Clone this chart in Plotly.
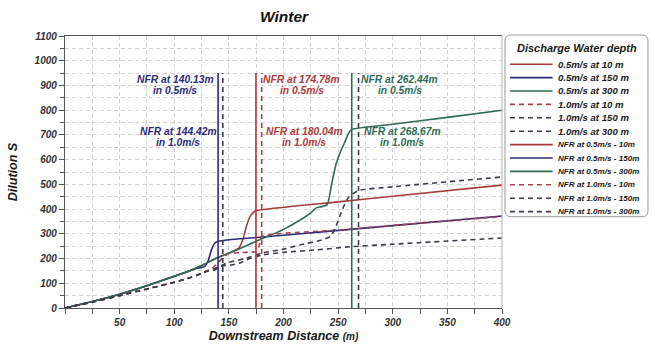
import plotly.graph_objects as go

# ---- Dilution along the plume, discharge speed 0.5 m/s ----
x_05_10 = [0, 25, 50, 75, 100, 115, 125, 140, 150, 159, 163, 166, 169, 172, 174.78, 250, 300, 400]
s_05_10 = [0, 26, 56, 90, 128, 152, 172, 204, 222, 242, 280, 330, 366, 385, 393, 429, 452, 497]

x_05_150 = [0, 25, 50, 75, 100, 115, 120, 125, 128, 131, 134, 137, 140.13, 200, 300, 400]
s_05_150 = [0, 26, 56, 90, 128, 152, 160, 164, 168, 190, 235, 262, 270, 294, 333, 372]

x_05_300 = [0, 25, 50, 75, 100, 115, 125, 140, 150, 160, 175, 200, 216, 225, 230, 235, 240,
            244, 248, 252, 256, 260, 262.44, 300, 350, 400]
s_05_300 = [0, 26, 56, 90, 128, 152, 172, 204, 222, 240, 270, 318, 358, 385, 405, 410, 418,
            500, 580, 630, 670, 710, 722, 743, 771, 800]

# ---- Dilution along the plume, discharge speed 1.0 m/s ----
x_10_10 = [0, 25, 50, 75, 100, 115, 125, 135, 145, 150, 160, 170, 175, 178, 180.04, 250, 300, 400]
s_10_10 = [0, 24, 50, 77, 104, 123, 140, 162, 205, 220, 224, 226, 228, 255, 288, 315, 334, 370]

x_10_150 = [0, 25, 50, 75, 100, 115, 125, 130, 136, 144.42, 152, 160, 168, 180, 200, 230, 262, 300, 400]
s_10_150 = [0, 24, 50, 77, 104, 123, 140, 150, 152, 170, 174, 182, 198, 214, 225, 235, 248, 258, 283]

x_10_300 = [0, 25, 50, 75, 100, 115, 125, 140, 150, 165, 180, 200, 215, 235, 243, 248, 254, 260,
            268.67, 300, 400]
s_10_300 = [0, 24, 50, 77, 104, 123, 140, 165, 185, 200, 222, 238, 255, 275, 290, 330, 400, 450,
            475, 490, 530]

# Near-field region boundaries (m), ordered by water depth 10 / 150 / 300 m
depths = ["10", "150", "300"]
nfr_05 = [174.78, 140.13, 262.44]
nfr_10 = [180.04, 144.42, 268.67]
nfr_top = 950

RED, NAVY, GREEN, GREY, DRED = "#ab3b3b", "#2c2b79", "#2f6b56", "#3b3b4b", "#a8404f"
solid_colors = [RED, NAVY, GREEN]
dashed_colors = [DRED, GREY, GREY]
label_colors = [RED, NAVY, GREEN]

curves_05 = [(x_05_10, s_05_10), (x_05_150, s_05_150), (x_05_300, s_05_300)]
curves_10 = [(x_10_10, s_10_10), (x_10_150, s_10_150), (x_10_300, s_10_300)]

FONT = "Liberation Sans"
DASH = "5px,4px"

fig = go.Figure()

for (xs, ys), d, c in zip(curves_05, depths, solid_colors):
    fig.add_trace(go.Scatter(x=xs, y=ys, mode="lines", name=f"0.5m/s at {d} m",
                             line=dict(color=c, width=1.6, shape="spline", smoothing=0.6),
                             showlegend=False))
for (xs, ys), d, c in zip(curves_10, depths, dashed_colors):
    fig.add_trace(go.Scatter(x=xs, y=ys, mode="lines", name=f"1.0m/s at {d} m",
                             line=dict(color=c, width=1.6, dash=DASH, shape="spline", smoothing=0.6),
                             showlegend=False))
for v, d, c in zip(nfr_05, depths, solid_colors):
    fig.add_trace(go.Scatter(x=[v, v], y=[0, nfr_top], mode="lines",
                             name=f"NFR at 0.5m/s - {d}m",
                             line=dict(color=c, width=1.6), showlegend=False))
for v, d, c in zip(nfr_10, depths, dashed_colors):
    fig.add_trace(go.Scatter(x=[v, v], y=[0, nfr_top], mode="lines",
                             name=f"NFR at 1.0m/s - {d}m",
                             line=dict(color=c, width=1.6, dash=DASH), showlegend=False))

# ---- NFR labels (centre x of each two-line block, per depth) ----
lab_font = dict(family=FONT, size=10.3, weight="bold", style="italic")
label_cx_05 = [216.6, 100.9, 306.2]
label_cx_10 = [219.0, 103.5, 308.8]
for v, cx, c in zip(nfr_05, label_cx_05, label_colors):
    for txt, yy in [(f"NFR at {v:.2f}m", 926), ("in 0.5m/s", 879)]:
        fig.add_annotation(x=cx, y=yy, text=txt, showarrow=False, xanchor="center",
                           yanchor="middle", font=dict(lab_font, color=c))
for v, cx, c in zip(nfr_10, label_cx_10, label_colors):
    for txt, yy in [(f"NFR at {v:.2f}m", 715), ("in 1.0m/s", 668)]:
        fig.add_annotation(x=cx, y=yy, text=txt, showarrow=False, xanchor="center",
                           yanchor="middle", font=dict(lab_font, color=c))

# ---- Legend box drawn in paper space ----
L, T, PW, PH = 62, 36, 440, 277


def px(xp):
    return (xp - L) / PW


def py(yp):
    return (T + PH - yp) / PH


bx0, bx1, by0, by1, r = 505, 649, 35, 220, 6
path = (f"M {px(bx0 + r)},{py(by0)} L {px(bx1 - r)},{py(by0)} "
        f"Q {px(bx1)},{py(by0)} {px(bx1)},{py(by0 + r)} "
        f"L {px(bx1)},{py(by1 - r)} Q {px(bx1)},{py(by1)} {px(bx1 - r)},{py(by1)} "
        f"L {px(bx0 + r)},{py(by1)} Q {px(bx0)},{py(by1)} {px(bx0)},{py(by1 - r)} "
        f"L {px(bx0)},{py(by0 + r)} Q {px(bx0)},{py(by0)} {px(bx0 + r)},{py(by0)} Z")
fig.add_shape(type="path", path=path, xref="paper", yref="paper",
              line=dict(color="#9a9a9a", width=1), fillcolor="white", layer="above")
fig.add_annotation(x=px(577.5), y=py(48), xref="paper", yref="paper", text="Discharge Water depth",
                   showarrow=False, xanchor="center", yanchor="middle",
                   font=dict(family=FONT, size=11, weight="bold", style="italic", color="#1a1a1a"))

legend_rows = [(tr.name, tr.line.color, tr.line.dash) for tr in fig.data]
for i, (name, col, dash) in enumerate(legend_rows):
    yrow = 64.7 + 13.65 * i
    fig.add_shape(type="line", xref="paper", yref="paper", x0=px(510), x1=px(553),
                  y0=py(yrow), y1=py(yrow), layer="above",
                  line=dict(color=col, width=1.6, dash=dash if dash else "solid"))
    fsize = 9.6 if i < 6 else 8.1
    fig.add_annotation(x=px(556), y=py(yrow), xref="paper", yref="paper", text=name,
                       showarrow=False, xanchor="left", yanchor="middle",
                       font=dict(family=FONT, size=fsize, weight="bold", style="italic", color="#1a1a1a"))

# right frame edge
fig.add_shape(type="line", xref="paper", yref="paper", x0=1, x1=1, y0=0, y1=1,
              line=dict(color="#b5b5b5", width=1))

tick_font = dict(family=FONT, size=10, weight="bold", style="italic", color="#333333")
grid = dict(showgrid=True, gridcolor="#d2d2d2", griddash="4px,3px", gridwidth=1)

fig.update_xaxes(range=[0, 400], tickmode="array",
                 tickvals=[0, 50, 100, 150, 200, 250, 300, 350, 400],
                 ticktext=["", "50", "100", "150", "200", "250", "300", "350", "400"],
                 ticks="outside", ticklen=5, tickcolor="#555555", tickfont=tick_font,
                 showline=True, linecolor="#555555", linewidth=1.3, mirror=True,
                 minor=dict(tickmode="linear", tick0=0, dtick=25, ticks="outside", ticklen=5,
                            tickcolor="#555555", showgrid=True, gridcolor="#d2d2d2",
                            griddash="4px,3px"),
                 zeroline=False,
                 title=dict(text="Downstream Distance <span style='font-size:10px'>(m)</span>",
                            font=dict(family=FONT, size=12.5, weight="bold", style="italic",
                                      color="#1a1a1a"), standoff=4),
                 **grid)
fig.update_yaxes(range=[0, 1100], tickmode="linear", tick0=0, dtick=100,
                 ticks="outside", ticklen=5, tickcolor="#555555", tickfont=tick_font,
                 showline=True, linecolor="#555555", linewidth=1.3,
                 minor=dict(tickmode="linear", tick0=0, dtick=50, ticks="outside", ticklen=4,
                            tickcolor="#555555", showgrid=True, gridcolor="#d2d2d2",
                            griddash="4px,3px"),
                 zeroline=False,
                 title=dict(text="Dilution S",
                            font=dict(family=FONT, size=12.5, weight="bold", style="italic",
                                      color="#1a1a1a"), standoff=14),
                 **grid)

fig.update_layout(
    width=655, height=353,
    margin=dict(l=L, r=655 - L - PW, t=T, b=353 - T - PH),
    paper_bgcolor="white", plot_bgcolor="white",
    showlegend=False,
    title=dict(text="Winter", x=284 / 655, xref="container", xanchor="center",
               y=1 - 16.5 / 353, yref="container", yanchor="middle",
               font=dict(family=FONT, size=15.5, weight="bold", style="italic", color="#111111")),
)

fig.write_html("out.html")
